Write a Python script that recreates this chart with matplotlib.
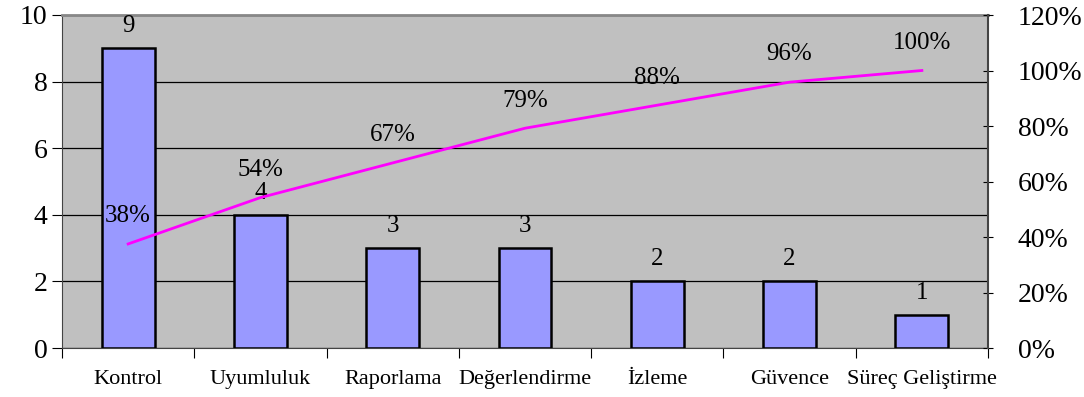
import matplotlib
matplotlib.use("Agg")
import matplotlib.pyplot as plt
import numpy as np

categories = ["Kontrol", "Uyumluluk", "Raporlama", "Değerlendirme", "İzleme", "Güvence", "Süreç Geliştirme"]
counts = [9, 4, 3, 3, 2, 2, 1]
cum_pct = [38, 54, 67, 79, 88, 96, 100]
cum_exact = [37.5, 54.2, 66.7, 79.2, 87.5, 95.8, 100.0]

plt.rcParams['font.family'] = ['Liberation Serif', 'DejaVu Serif']

fig = plt.figure(figsize=(10.84, 3.97), dpi=100)
ax = fig.add_axes([62/1084, 49/397, 926/1084, 333/397])
ax.set_facecolor('#C0C0C0')

x = np.arange(len(categories))
ax.bar(x, counts, width=0.4, color='#9999FF', edgecolor='black', linewidth=1.8, zorder=3)
for xi, c in zip(x, counts):
    ax.annotate(str(c), (xi, c), xytext=(0, 8), textcoords='offset points',
                ha='center', va='bottom', fontsize=18)

ax.set_xlim(-0.5, len(categories) - 0.5)
ax.set_ylim(0, 10)
ax.set_yticks(range(0, 11, 2))
ax.yaxis.grid(True, color='black', linewidth=0.9)
ax.set_axisbelow(True)
ax.set_xticks(np.arange(-0.5, len(categories), 1.0))
ax.set_xticklabels([])
ax.set_xticks(x, minor=True)
ax.set_xticklabels(categories, minor=True, fontsize=16)
ax.tick_params(axis='x', which='minor', length=0, pad=16)
ax.tick_params(axis='x', which='major', length=7, direction='out')
ax.tick_params(axis='y', labelsize=20, length=7, direction='out')
for s in ['left', 'bottom']:
    ax.spines[s].set_color('#444444')
ax.spines['top'].set_color('#888888')
ax.spines['top'].set_linewidth(2)
ax.spines['right'].set_visible(False)

ax2 = ax.twinx()
ax2.plot(x, cum_exact, color='#FF00FF', linewidth=2, zorder=4)
for xi, v, lab in zip(x, cum_exact, cum_pct):
    ax2.annotate(f"{lab}%", (xi, v), xytext=(0, 12), textcoords='offset points',
                 ha='center', va='bottom', fontsize=18)
ax2.set_ylim(0, 120)
ax2.set_yticks(range(0, 121, 20))
ax2.set_yticklabels([f"{t}%" for t in range(0, 121, 20)])
ax2.tick_params(axis='y', labelsize=20, length=7, direction='inout', pad=18)
ax2.spines['right'].set_color('#444444')
ax2.spines['right'].set_linewidth(1.5)
for s in ['left', 'top', 'bottom']:
    ax2.spines[s].set_visible(False)

fig.savefig("out.png", dpi=100)
